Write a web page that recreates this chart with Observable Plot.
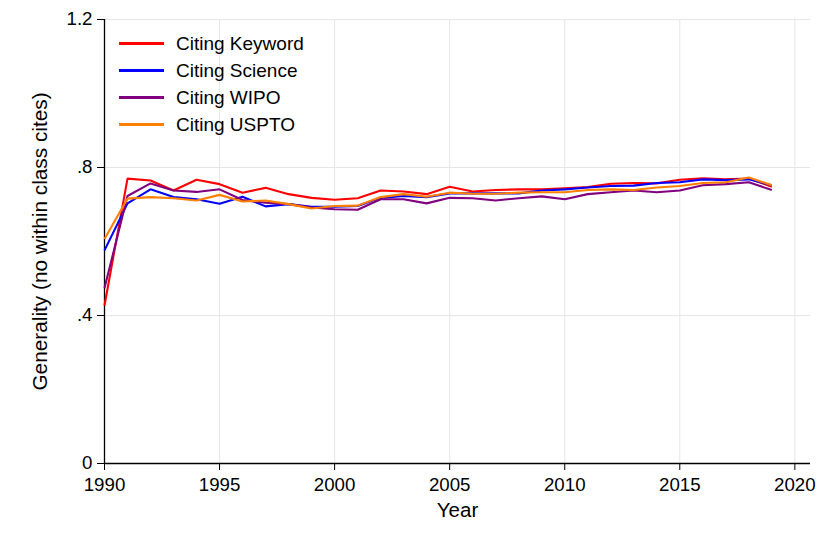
<!DOCTYPE html>
<html>
<head>
<meta charset="utf-8">
<script src="https://cdn.jsdelivr.net/npm/d3@7"></script>
<script src="https://cdn.jsdelivr.net/npm/@observablehq/plot@0.6"></script>
<style>
  html, body { margin: 0; padding: 0; background: #fff; }
  #wrap { position: relative; width: 830px; height: 554px; font-family: "Liberation Sans", Arial, Helvetica, sans-serif; }
  #legend { position: absolute; left: 119px; top: 30px; font-size: 19px; color: #000; }
  .item { display: flex; align-items: center; height: 27px; }
  .sw { width: 45px; height: 2.2px; margin-right: 12px; }
</style>
</head>
<body>
<div id="wrap"></div>
<script>
const years = d3.range(1990, 2020);
const series = ["Citing Keyword", "Citing Science", "Citing WIPO", "Citing USPTO"];
const colors = ["#ff0000", "#0000ff", "#800080", "#ff8000"];

const keyword = [0.427, 0.770, 0.765, 0.738, 0.767, 0.755, 0.732, 0.745, 0.728, 0.718,
                 0.713, 0.717, 0.738, 0.735, 0.728, 0.748, 0.735, 0.739, 0.741, 0.741,
                 0.744, 0.747, 0.756, 0.758, 0.757, 0.767, 0.771, 0.768, 0.770, 0.748];
const science = [0.576, 0.703, 0.741, 0.720, 0.714, 0.702, 0.721, 0.695, 0.701, 0.694,
                 0.694, 0.696, 0.718, 0.723, 0.720, 0.730, 0.730, 0.730, 0.730, 0.738,
                 0.741, 0.746, 0.750, 0.751, 0.758, 0.760, 0.768, 0.766, 0.768, 0.752];
const wipo    = [0.474, 0.723, 0.757, 0.738, 0.734, 0.741, 0.712, 0.705, 0.701, 0.692,
                 0.687, 0.686, 0.714, 0.714, 0.703, 0.718, 0.717, 0.711, 0.717, 0.722,
                 0.714, 0.728, 0.733, 0.738, 0.733, 0.738, 0.752, 0.755, 0.760, 0.739];
const uspto   = [0.607, 0.716, 0.720, 0.717, 0.711, 0.726, 0.708, 0.711, 0.701, 0.689,
                 0.696, 0.697, 0.720, 0.728, 0.721, 0.732, 0.729, 0.729, 0.732, 0.733,
                 0.733, 0.739, 0.741, 0.739, 0.746, 0.750, 0.758, 0.760, 0.773, 0.752];

const xTicks = [1990, 1995, 2000, 2005, 2010, 2015, 2020];
const xGrid = [1995, 2000, 2005, 2010, 2015, 2020];
const yTicks = [0, 0.4, 0.8, 1.2];
const yTickLabels = ["0", ".4", ".8", "1.2"];
const yGrid = [0.4, 0.8, 1.2];

const allValues = [keyword, science, wipo, uspto];
const data = [];
series.forEach((s, i) => years.forEach((yr, j) => data.push({year: yr, value: allValues[i][j], series: s})));

const font = "'Liberation Sans', Arial, Helvetica, sans-serif";

const chart = Plot.plot({
  width: 830,
  height: 554,
  marginLeft: 104,
  marginRight: 20,
  marginTop: 19,
  marginBottom: 91,
  style: { fontFamily: font, fontSize: "18.7px", background: "#fff", color: "#000" },
  x: { domain: [1990, 2020.68], label: null },
  y: { domain: [0, 1.2], label: null },
  color: { domain: series, range: colors },
  marks: [
    Plot.ruleX(xGrid, { stroke: "#e6e6e6", strokeWidth: 1 }),
    Plot.ruleY(yGrid, { stroke: "#e6e6e6", strokeWidth: 1 }),
    Plot.axisX({ ticks: xTicks, tickFormat: d => String(d), tickSize: 7, tickPadding: 7, stroke: "#000", strokeOpacity: 1, label: null, fontSize: "18.7px" }),
    Plot.axisY({ ticks: yTicks, tickFormat: d => yTickLabels[yTicks.indexOf(d)], tickSize: 7, tickPadding: 5, stroke: "#000", strokeOpacity: 1, label: null, fontSize: "18.7px" }),
    Plot.ruleY([0], { stroke: "#000", strokeWidth: 1.3 }),
    Plot.ruleX([1990], { stroke: "#000", strokeWidth: 1.3 }),
    Plot.line(data, { x: "year", y: "value", z: "series", stroke: "series", strokeWidth: 2.1, strokeLinejoin: "miter", strokeLinecap: "butt" }),
    Plot.text(["Year"], { frameAnchor: "bottom", dy: 53, fontSize: "20.5px", fill: "#000" }),
    Plot.text(["Generality (no within class cites)"], { frameAnchor: "left", textAnchor: "middle", dx: -64, rotate: -90, fontSize: "20.8px", fill: "#000" })
  ]
});

const wrap = document.getElementById("wrap");
wrap.appendChild(chart);

const legend = document.createElement("div");
legend.id = "legend";
series.forEach((s, i) => {
  const item = document.createElement("div");
  item.className = "item";
  const sw = document.createElement("span");
  sw.className = "sw";
  sw.style.background = colors[i];
  const lab = document.createElement("span");
  lab.textContent = s;
  item.appendChild(sw);
  item.appendChild(lab);
  legend.appendChild(item);
});
wrap.appendChild(legend);
</script>
</body>
</html>
